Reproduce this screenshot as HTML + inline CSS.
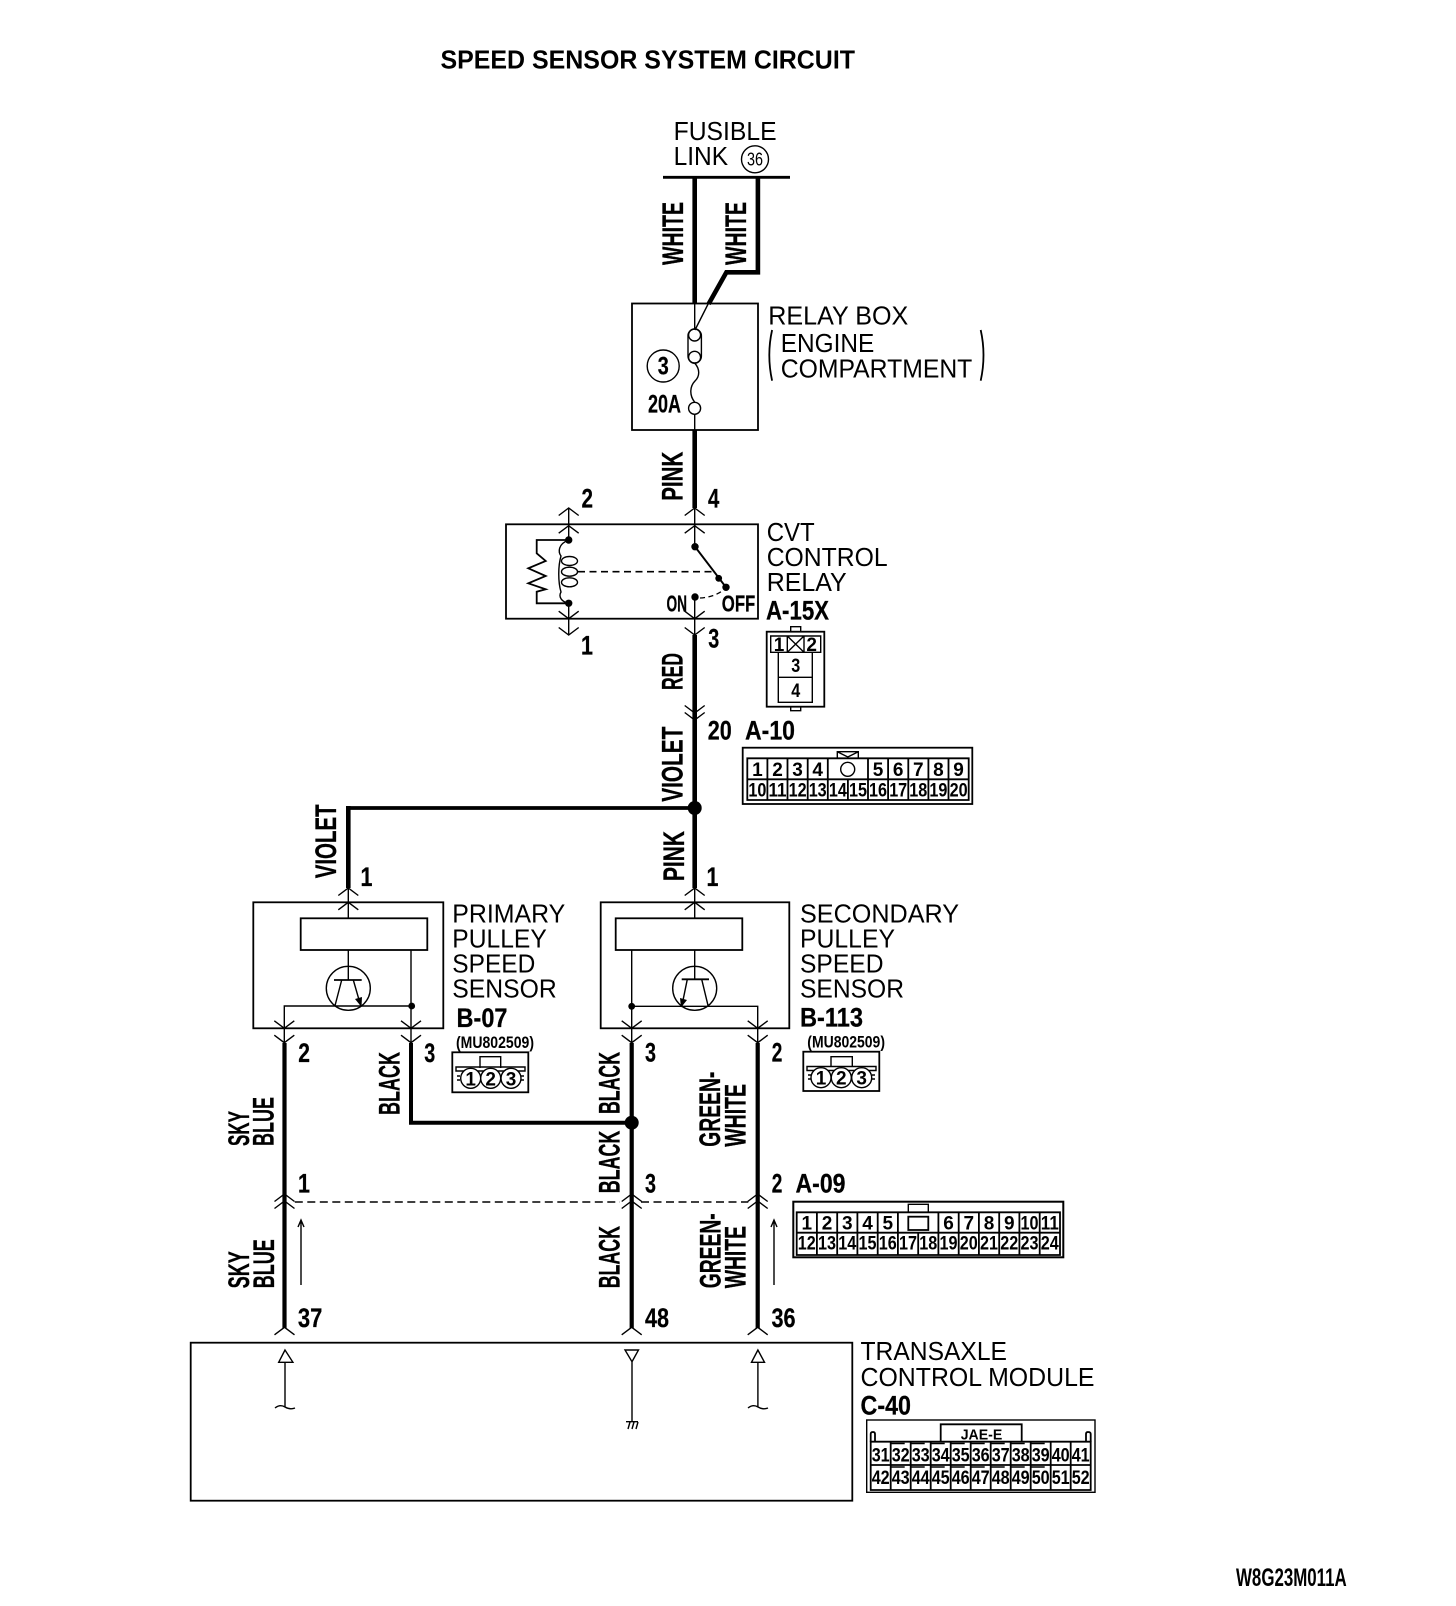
<!DOCTYPE html>
<html><head><meta charset="utf-8"><title>Speed Sensor System Circuit</title>
<style>
html,body{margin:0;padding:0;background:#fff}
svg{display:block}
text{font-family:"Liberation Sans",Arial,sans-serif;fill:#000;stroke:none}
.r{font-size:26px;transform:translate(-1px,-.7px)}
.b{font-size:27px;font-weight:bold;stroke:#000;stroke-width:.25;transform:translateY(-.7px)}
.w{font-size:29.5px;font-weight:bold;stroke:#000;stroke-width:.3}
.c{font-size:19px;font-weight:bold;text-anchor:middle}
.l{fill:none;stroke:#000;stroke-width:1.4}
.m{fill:none;stroke:#000;stroke-width:1.8}
.t{fill:none;stroke:#000;stroke-width:4.6}
</style></head><body>
<svg xmlns="http://www.w3.org/2000/svg" width="1456" height="1606" viewBox="0 0 1456 1606">
<defs>
<path id="u" class="l" d="M-10,7.5L0,0L10,7.5"/>
<path id="d" class="l" d="M-10,-7.5L0,0L10,-7.5"/>
</defs>
<rect width="1456" height="1606" fill="#fff"/>

<text x="440.5" y="68.5" font-size="26" font-weight="bold" textLength="414.5" lengthAdjust="spacingAndGlyphs">SPEED SENSOR SYSTEM CIRCUIT</text>

<!-- Fusible link -->
<text class="r" x="674.6" y="140.7" textLength="103" lengthAdjust="spacingAndGlyphs">FUSIBLE</text>
<text class="r" x="674.6" y="165.7" textLength="54.5" lengthAdjust="spacingAndGlyphs">LINK</text>
<circle class="l" cx="755" cy="159.3" r="13.5"/>
<text x="755" y="165.5" font-size="18" text-anchor="middle" textLength="16" lengthAdjust="spacingAndGlyphs">36</text>
<path d="M663,177.3H790" fill="none" stroke="#000" stroke-width="2.8"/>
<path class="t" d="M694.7,177V304"/>
<path class="t" d="M757.9,177V272.3H726.4L708.6,304"/>
<path class="l" d="M708.6,303L695,330M694.7,304V329M694.7,414V430"/>
<text class="w" transform="translate(683,265) rotate(-90)" textLength="63" lengthAdjust="spacingAndGlyphs">WHITE</text>
<text class="w" transform="translate(746,265) rotate(-90)" textLength="63" lengthAdjust="spacingAndGlyphs">WHITE</text>

<!-- Relay box -->
<rect class="m" x="632" y="303.5" width="126" height="126.5"/>
<rect class="l" x="688" y="329" width="13.4" height="34" rx="6.7"/>
<circle class="l" cx="694.6" cy="335" r="6"/>
<circle class="l" cx="694.6" cy="357.3" r="6"/>
<path class="l" d="M694.6,363C700,369 700,376 695,381C690,386 689,395 694.6,402"/>
<circle class="l" cx="694.6" cy="408.3" r="6"/>
<circle class="l" cx="663.2" cy="366" r="16"/>
<text class="b" x="663.2" y="375" text-anchor="middle" textLength="11" lengthAdjust="spacingAndGlyphs" style="font-size:25px">3</text>
<text class="b" x="648" y="413" style="font-size:25px" textLength="33" lengthAdjust="spacingAndGlyphs">20A</text>
<text class="r" x="769.3" y="325" textLength="140" lengthAdjust="spacingAndGlyphs">RELAY BOX</text>
<path class="m" d="M772.1,330Q766.5,355 772.1,380.7"/>
<text class="r" x="781.8" y="352.7" textLength="93.5" lengthAdjust="spacingAndGlyphs">ENGINE</text>
<text class="r" x="781.8" y="378.3" textLength="191.5" lengthAdjust="spacingAndGlyphs">COMPARTMENT</text>
<path class="m" d="M980.7,330Q986.3,355 980.7,380.7"/>

<!-- Main wire -->
<path class="t" d="M694.7,430V508"/>
<text class="w" transform="translate(682.7,500.7) rotate(-90)" textLength="49" lengthAdjust="spacingAndGlyphs">PINK</text>
<text class="b" x="708" y="508.3" textLength="11.3" lengthAdjust="spacingAndGlyphs">4</text>
<text class="b" x="581.5" y="508.3" textLength="11.5" lengthAdjust="spacingAndGlyphs">2</text>

<!-- CVT relay -->
<rect class="m" x="506" y="524.3" width="252" height="94.4"/>
<use href="#u" x="568.7" y="508"/><use href="#u" x="568.7" y="525.7"/>
<use href="#u" x="694.7" y="508"/><use href="#u" x="694.7" y="525.7"/>
<use href="#d" x="568.7" y="618.7"/><use href="#d" x="568.7" y="635"/>
<use href="#d" x="694.7" y="618.7"/><use href="#d" x="694.7" y="635"/>
<path class="l" d="M568.7,508V540M568.7,603V635M694.7,508V546M694.7,597V635"/>
<circle cx="568.7" cy="540" r="3.7"/><circle cx="568.7" cy="603.3" r="3.7"/>
<path class="m" d="M568.3,540H536.7V553.3L545.7,561L528.3,568.3L545.7,576L528.3,583.3L545.7,589.3L536.7,591.7V603.3H568.3"/>
<path class="l" d="M568.7,540C558,544 558,552 561,556C558,566 558,582 561,592C558,597 562,602 568.7,603.3"/>
<ellipse class="l" cx="569.5" cy="561" rx="8" ry="4.5"/>
<ellipse class="l" cx="569.5" cy="571.7" rx="8" ry="4.5"/>
<ellipse class="l" cx="569.5" cy="582.3" rx="8" ry="4.5"/>
<path d="M578,571.7H716" fill="none" stroke="#000" stroke-width="1.6" stroke-dasharray="7 4.5"/>
<path d="M695,546.7L726,587.3" fill="none" stroke="#000" stroke-width="2"/>
<circle cx="695" cy="546.7" r="3.7"/><circle cx="718.7" cy="578.3" r="3.4"/><circle cx="726" cy="587.3" r="3.7"/><circle cx="695" cy="597" r="3.7"/>
<path d="M700,598Q716,597 726,588" fill="none" stroke="#000" stroke-width="1.3" stroke-dasharray="5 3.5"/>
<text class="b" x="666.5" y="612.3" style="font-size:23px" textLength="20.5" lengthAdjust="spacingAndGlyphs">ON</text>
<text class="b" x="721.8" y="612.3" style="font-size:23px" textLength="33.5" lengthAdjust="spacingAndGlyphs">OFF</text>
<text class="r" x="767.7" y="541.7" textLength="48" lengthAdjust="spacingAndGlyphs">CVT</text>
<text class="r" x="767.7" y="566.7" textLength="121" lengthAdjust="spacingAndGlyphs">CONTROL</text>
<text class="r" x="767.7" y="591.7" textLength="80" lengthAdjust="spacingAndGlyphs">RELAY</text>
<text class="b" x="766" y="620" textLength="63" lengthAdjust="spacingAndGlyphs">A-15X</text>
<text class="b" x="581" y="655" textLength="12" lengthAdjust="spacingAndGlyphs">1</text>
<text class="b" x="708.3" y="648.3" textLength="11" lengthAdjust="spacingAndGlyphs">3</text>

<path class="t" d="M694.7,635V888"/>
<use href="#d" x="694.7" y="713"/><use href="#d" x="694.7" y="720"/>
<text class="w" transform="translate(682.7,690) rotate(-90)" textLength="37" lengthAdjust="spacingAndGlyphs">RED</text>
<text class="b" x="707.8" y="740" textLength="24" lengthAdjust="spacingAndGlyphs">20</text>
<text class="b" x="745" y="740" textLength="50" lengthAdjust="spacingAndGlyphs">A-10</text>
<text class="w" transform="translate(682.7,801.7) rotate(-90)" textLength="75" lengthAdjust="spacingAndGlyphs">VIOLET</text>

<!-- A-15X connector -->
<rect class="m" x="766.7" y="631.7" width="57.6" height="75"/>
<path class="l" d="M790.7,631.7V626.7H800.7V631.7M790.7,706.7V710.7H800.7V706.7"/>
<path class="l" d="M770.7,636H820.7V652.3H770.7ZM787.3,636V652.3M804,636V652.3M787.3,636L804,652.3M804,636L787.3,652.3M778.3,652.3V702.3H812.3V652.3M778.3,677.3H812.3"/>
<text class="c" x="779" y="651">1</text><text class="c" x="811.7" y="651">2</text>
<text class="c" x="795.7" y="672" textLength="9" lengthAdjust="spacingAndGlyphs">3</text><text class="c" x="795.7" y="697" textLength="9" lengthAdjust="spacingAndGlyphs">4</text>

<!-- A-10 connector -->
<rect class="m" x="742.7" y="747.7" width="229.6" height="56.3"/>
<path class="l" d="M837.3,758.3V751.7H858.3V758.3M837.3,751.7L847.8,757L858.3,751.7"/>
<path class="m" d="M747.3,758.3H968.7V800H747.3ZM747.3,779.3H968.7M767.4,758.3V800M787.5,758.3V800M807.7,758.3V800M827.8,758.3V800M847.9,779.3V800M868,758.3V800M888.1,758.3V800M908.3,758.3V800M928.4,758.3V800M948.5,758.3V800"/>
<circle class="l" cx="847.7" cy="769.3" r="7"/>
<g>
<text class="c" x="757.4" y="776">1</text><text class="c" x="777.5" y="776">2</text><text class="c" x="797.6" y="776">3</text><text class="c" x="817.7" y="776">4</text>
<text class="c" x="878" y="776">5</text><text class="c" x="898.2" y="776">6</text><text class="c" x="918.3" y="776">7</text><text class="c" x="938.4" y="776">8</text><text class="c" x="958.6" y="776">9</text>
<text class="c" x="757.4" y="796.5" textLength="18" lengthAdjust="spacingAndGlyphs">10</text><text class="c" x="777.5" y="796.5" textLength="18" lengthAdjust="spacingAndGlyphs">11</text><text class="c" x="797.6" y="796.5" textLength="18" lengthAdjust="spacingAndGlyphs">12</text><text class="c" x="817.7" y="796.5" textLength="18" lengthAdjust="spacingAndGlyphs">13</text><text class="c" x="837.9" y="796.5" textLength="18" lengthAdjust="spacingAndGlyphs">14</text><text class="c" x="858" y="796.5" textLength="18" lengthAdjust="spacingAndGlyphs">15</text><text class="c" x="878" y="796.5" textLength="18" lengthAdjust="spacingAndGlyphs">16</text><text class="c" x="898.2" y="796.5" textLength="18" lengthAdjust="spacingAndGlyphs">17</text><text class="c" x="918.3" y="796.5" textLength="18" lengthAdjust="spacingAndGlyphs">18</text><text class="c" x="938.4" y="796.5" textLength="18" lengthAdjust="spacingAndGlyphs">19</text><text class="c" x="958.6" y="796.5" textLength="18" lengthAdjust="spacingAndGlyphs">20</text>
</g>

<!-- Junction and branch -->
<path d="M348.3,808H694.7" fill="none" stroke="#000" stroke-width="3.8"/>
<path class="t" d="M348.3,806V888"/>
<circle cx="694.7" cy="808" r="7"/>
<text class="w" transform="translate(336,878.3) rotate(-90)" textLength="74" lengthAdjust="spacingAndGlyphs">VIOLET</text>
<text class="w" transform="translate(684,881) rotate(-90)" textLength="50" lengthAdjust="spacingAndGlyphs">PINK</text>
<text class="b" x="360.5" y="886.5" textLength="12" lengthAdjust="spacingAndGlyphs">1</text>
<text class="b" x="706.5" y="886.5" textLength="12" lengthAdjust="spacingAndGlyphs">1</text>

<!-- Primary sensor -->
<rect class="m" x="253.3" y="902.3" width="190" height="126"/>
<rect class="m" x="300.7" y="918.3" width="126.6" height="31.7"/>
<use href="#u" x="348.3" y="888"/><use href="#u" x="348.3" y="902.3"/>
<path class="l" d="M348.3,888V918M348.3,950V980"/>
<circle class="l" cx="348.3" cy="988.3" r="22"/>
<path class="m" d="M334,980H361.7"/>
<path class="l" d="M341.7,980L335,1005.7M353.3,980L360.7,1005.7"/>
<path d="M361.5,1007L355,999L362,997Z"/>
<path class="l" d="M411,950V1043M284.3,1043V1006H411.7"/>
<circle cx="411.7" cy="1006" r="3.4"/>
<use href="#d" x="284.3" y="1028.3"/><use href="#d" x="284.3" y="1042.7"/>
<use href="#d" x="411" y="1028.3"/><use href="#d" x="411" y="1042.7"/>
<text class="r" x="453.3" y="923.3" textLength="113" lengthAdjust="spacingAndGlyphs">PRIMARY</text>
<text class="r" x="453.3" y="948.3" textLength="94.5" lengthAdjust="spacingAndGlyphs">PULLEY</text>
<text class="r" x="453.3" y="973.3" textLength="83" lengthAdjust="spacingAndGlyphs">SPEED</text>
<text class="r" x="453.3" y="998.3" textLength="104.5" lengthAdjust="spacingAndGlyphs">SENSOR</text>
<text class="b" x="456.5" y="1027.5" textLength="51" lengthAdjust="spacingAndGlyphs">B-07</text>
<text x="456" y="1048" font-size="17" font-weight="bold" textLength="78" lengthAdjust="spacingAndGlyphs">(MU802509)</text>
<rect class="m" x="452.3" y="1052.3" width="76" height="40"/>
<path class="l" d="M480,1068V1056.7H500.7V1068M456,1067H525V1071H456ZM457,1076H460M521,1076H524M457,1080H460M521,1080H524"/>
<circle cx="470.7" cy="1078.3" r="10" fill="#fff" stroke="#000" stroke-width="1.4"/>
<circle cx="490.7" cy="1078.3" r="10" fill="#fff" stroke="#000" stroke-width="1.4"/>
<circle cx="511" cy="1078.3" r="10" fill="#fff" stroke="#000" stroke-width="1.4"/>
<text class="c" x="470.7" y="1085.3">1</text><text class="c" x="490.7" y="1085.3">2</text><text class="c" x="511" y="1085.3">3</text>
<text class="b" x="298.3" y="1062.7" textLength="11.7" lengthAdjust="spacingAndGlyphs">2</text>
<text class="b" x="424.3" y="1062.7" textLength="11" lengthAdjust="spacingAndGlyphs">3</text>

<!-- Secondary sensor -->
<rect class="m" x="600.7" y="902.3" width="188.6" height="126"/>
<rect class="m" x="615.7" y="918.3" width="126.6" height="31.7"/>
<use href="#u" x="694.7" y="888"/><use href="#u" x="694.7" y="902.3"/>
<path class="l" d="M694.7,888V918M694.7,950V980"/>
<circle class="l" cx="694.7" cy="988.3" r="22"/>
<path class="m" d="M681.7,979.3H709"/>
<path class="l" d="M687.3,979.3L681.7,1006.7M701.7,979.3L708.3,1006.7"/>
<path d="M681,1007.5L680,998L687,1000Z"/>
<path class="l" d="M631.7,950V1043M757.7,1043V1006.3H631.7"/>
<circle cx="631.7" cy="1006.3" r="3.4"/>
<use href="#d" x="631.7" y="1028.3"/><use href="#d" x="631.7" y="1042.7"/>
<use href="#d" x="757.7" y="1028.3"/><use href="#d" x="757.7" y="1042.7"/>
<text class="r" x="801" y="923.3" textLength="159" lengthAdjust="spacingAndGlyphs">SECONDARY</text>
<text class="r" x="801" y="948.3" textLength="95" lengthAdjust="spacingAndGlyphs">PULLEY</text>
<text class="r" x="801" y="973.3" textLength="83.5" lengthAdjust="spacingAndGlyphs">SPEED</text>
<text class="r" x="801" y="998.3" textLength="104" lengthAdjust="spacingAndGlyphs">SENSOR</text>
<text class="b" x="800" y="1027.3" textLength="63" lengthAdjust="spacingAndGlyphs">B-113</text>
<text x="807.3" y="1047.5" font-size="17" font-weight="bold" textLength="77.7" lengthAdjust="spacingAndGlyphs">(MU802509)</text>
<rect class="m" x="803.3" y="1051.7" width="76" height="39.3"/>
<path class="l" d="M831,1067V1056.7H852.3V1067M807,1066.5H876V1070.5H807ZM808,1075H811M872,1075H875M808,1079H811M872,1079H875"/>
<circle cx="821" cy="1077.7" r="10" fill="#fff" stroke="#000" stroke-width="1.4"/>
<circle cx="841.3" cy="1077.7" r="10" fill="#fff" stroke="#000" stroke-width="1.4"/>
<circle cx="861.7" cy="1077.7" r="10" fill="#fff" stroke="#000" stroke-width="1.4"/>
<text class="c" x="821" y="1084.7">1</text><text class="c" x="841.3" y="1084.7">2</text><text class="c" x="861.7" y="1084.7">3</text>
<text class="b" x="645" y="1062.3" textLength="11" lengthAdjust="spacingAndGlyphs">3</text>
<text class="b" x="771.7" y="1062.3" textLength="10.6" lengthAdjust="spacingAndGlyphs">2</text>

<!-- Lower wires -->
<path class="t" d="M284.5,1043V1328M631.7,1043V1328M757.7,1043V1328" style="stroke-width:4.2"/>
<path class="t" d="M411,1043V1122.7H631" style="stroke-width:4"/>
<circle cx="631.7" cy="1122.7" r="7"/>
<text class="w" transform="translate(399.3,1115) rotate(-90)" textLength="63" lengthAdjust="spacingAndGlyphs">BLACK</text>
<text class="w" transform="translate(619.3,1114) rotate(-90)" textLength="62" lengthAdjust="spacingAndGlyphs">BLACK</text>
<text class="w" transform="translate(619.3,1193.3) rotate(-90)" textLength="62.6" lengthAdjust="spacingAndGlyphs">BLACK</text>
<text class="w" transform="translate(619.3,1288.3) rotate(-90)" textLength="62.3" lengthAdjust="spacingAndGlyphs">BLACK</text>
<text class="w" transform="translate(249,1146) rotate(-90)" textLength="35" lengthAdjust="spacingAndGlyphs">SKY</text>
<text class="w" transform="translate(273.5,1146) rotate(-90)" textLength="49" lengthAdjust="spacingAndGlyphs">BLUE</text>
<text class="w" transform="translate(249,1288.3) rotate(-90)" textLength="37" lengthAdjust="spacingAndGlyphs">SKY</text>
<text class="w" transform="translate(273.8,1288.3) rotate(-90)" textLength="49" lengthAdjust="spacingAndGlyphs">BLUE</text>
<text class="w" transform="translate(720,1146.7) rotate(-90)" textLength="75" lengthAdjust="spacingAndGlyphs">GREEN-</text>
<text class="w" transform="translate(745.7,1146.7) rotate(-90)" textLength="62.7" lengthAdjust="spacingAndGlyphs">WHITE</text>
<text class="w" transform="translate(720.4,1288.3) rotate(-90)" textLength="75" lengthAdjust="spacingAndGlyphs">GREEN-</text>
<text class="w" transform="translate(745.6,1288.3) rotate(-90)" textLength="62.3" lengthAdjust="spacingAndGlyphs">WHITE</text>

<!-- A-09 row -->
<use href="#u" x="284.5" y="1194"/><use href="#u" x="284.5" y="1201"/>
<use href="#u" x="631.7" y="1194"/><use href="#u" x="631.7" y="1201"/>
<use href="#u" x="757.7" y="1194"/><use href="#u" x="757.7" y="1201"/>
<path d="M294.8,1202H620M641,1202H748.3" fill="none" stroke="#000" stroke-width="1.4" stroke-dasharray="8 4.5"/>
<path class="l" d="M301,1285V1220M298,1227L301,1220L304,1227M774,1285V1220M771,1227L774,1220L777,1227"/>
<text class="b" x="298" y="1193.3" textLength="12" lengthAdjust="spacingAndGlyphs">1</text>
<text class="b" x="645" y="1193.3" textLength="11" lengthAdjust="spacingAndGlyphs">3</text>
<text class="b" x="771.7" y="1193.3" textLength="10.6" lengthAdjust="spacingAndGlyphs">2</text>
<text class="b" x="795.5" y="1193.3" textLength="50" lengthAdjust="spacingAndGlyphs">A-09</text>

<rect class="m" x="793.3" y="1201.7" width="270" height="55.6" style="stroke-width:2"/>
<path class="l" d="M908.3,1212.3V1204.3H928.3V1212.3"/>
<rect class="m" x="908.3" y="1216.7" width="20" height="13.3"/>
<path class="m" d="M796.7,1212.3H1060V1255H796.7ZM796.7,1232.7H1060M816.9,1212.3V1255M837.2,1212.3V1255M857.4,1212.3V1255M877.7,1212.3V1255M897.9,1212.3V1255M918.2,1232.7V1255M938.4,1212.3V1255M958.7,1212.3V1255M978.9,1212.3V1255M999.2,1212.3V1255M1019.4,1212.3V1255M1039.7,1212.3V1255"/>
<text class="c" x="806.8" y="1229.5">1</text><text class="c" x="827" y="1229.5">2</text><text class="c" x="847.3" y="1229.5">3</text><text class="c" x="867.5" y="1229.5">4</text><text class="c" x="887.8" y="1229.5">5</text>
<text class="c" x="948.5" y="1229.5">6</text><text class="c" x="968.8" y="1229.5">7</text><text class="c" x="989" y="1229.5">8</text><text class="c" x="1009.3" y="1229.5">9</text>
<text class="c" x="1029.5" y="1229.5" textLength="18" lengthAdjust="spacingAndGlyphs">10</text><text class="c" x="1049.8" y="1229.5" textLength="18" lengthAdjust="spacingAndGlyphs">11</text>
<text class="c" x="806.8" y="1249.3" textLength="18" lengthAdjust="spacingAndGlyphs">12</text><text class="c" x="827" y="1249.3" textLength="18" lengthAdjust="spacingAndGlyphs">13</text><text class="c" x="847.3" y="1249.3" textLength="18" lengthAdjust="spacingAndGlyphs">14</text><text class="c" x="867.5" y="1249.3" textLength="18" lengthAdjust="spacingAndGlyphs">15</text><text class="c" x="887.8" y="1249.3" textLength="18" lengthAdjust="spacingAndGlyphs">16</text><text class="c" x="908" y="1249.3" textLength="18" lengthAdjust="spacingAndGlyphs">17</text><text class="c" x="928.3" y="1249.3" textLength="18" lengthAdjust="spacingAndGlyphs">18</text><text class="c" x="948.5" y="1249.3" textLength="18" lengthAdjust="spacingAndGlyphs">19</text><text class="c" x="968.8" y="1249.3" textLength="18" lengthAdjust="spacingAndGlyphs">20</text><text class="c" x="989" y="1249.3" textLength="18" lengthAdjust="spacingAndGlyphs">21</text><text class="c" x="1009.3" y="1249.3" textLength="18" lengthAdjust="spacingAndGlyphs">22</text><text class="c" x="1029.5" y="1249.3" textLength="18" lengthAdjust="spacingAndGlyphs">23</text><text class="c" x="1049.8" y="1249.3" textLength="18" lengthAdjust="spacingAndGlyphs">24</text>

<!-- Module -->
<use href="#u" x="284.5" y="1327.3"/><use href="#u" x="631.7" y="1327.3"/><use href="#u" x="757.7" y="1327.3"/>
<text class="b" x="297.9" y="1327.5" textLength="24.5" lengthAdjust="spacingAndGlyphs">37</text>
<text class="b" x="645" y="1327.5" textLength="24" lengthAdjust="spacingAndGlyphs">48</text>
<text class="b" x="771.5" y="1327.5" textLength="24" lengthAdjust="spacingAndGlyphs">36</text>
<rect class="m" x="190.7" y="1342.7" width="661.6" height="158"/>
<path class="l" d="M285,1350L278.7,1362.3H292.9ZM285,1362.3V1407M275,1408Q280,1404 285,1407T295,1408"/>
<path class="l" d="M757.9,1350L751.5,1362.3H764.5ZM757.9,1362.3V1407M748,1408Q753,1404 758,1407T768,1408"/>
<path class="l" d="M625,1350H638.5L632,1361.7ZM632,1361.7V1421.7M626,1421.7H638M628,1429L630,1422M632,1429L634,1422M636,1429L638,1422"/>
<text class="r" x="861.5" y="1360.7" textLength="146.5" lengthAdjust="spacingAndGlyphs">TRANSAXLE</text>
<text class="r" x="861.5" y="1386.7" textLength="234" lengthAdjust="spacingAndGlyphs">CONTROL MODULE</text>
<text class="b" x="860.5" y="1415" textLength="50.5" lengthAdjust="spacingAndGlyphs">C-40</text>

<!-- C-40 connector -->
<rect class="l" x="866.7" y="1420" width="228.3" height="72.3"/>
<path class="m" d="M940.7,1441.7V1424.3H1021.7V1441.7M870.7,1441.7V1434Q870.7,1432 873,1432Q875,1432 875,1434V1441.7M1086,1441.7V1434Q1086,1432 1088,1432Q1090.7,1432 1090.7,1434V1441.7"/>
<text x="981.5" y="1439.3" font-size="15" font-weight="bold" text-anchor="middle" textLength="41.6" lengthAdjust="spacingAndGlyphs">JAE-E</text>
<path class="m" d="M870.7,1441.7H1090.7V1490H870.7ZM870.7,1465H1090.7M890.7,1441.7V1490M910.7,1441.7V1490M930.7,1441.7V1490M950.7,1441.7V1490M970.7,1441.7V1490M990.7,1441.7V1490M1010.7,1441.7V1490M1030.7,1441.7V1490M1050.7,1441.7V1490M1070.7,1441.7V1490"/>
<path d="M890.7,1443.5H1050.7M890.7,1467H1050.7" fill="none" stroke="#000" stroke-width="1.5" stroke-dasharray="14 6"/>
<text class="c" x="880.7" y="1461.5" textLength="18" lengthAdjust="spacingAndGlyphs">31</text><text class="c" x="900.7" y="1461.5" textLength="18" lengthAdjust="spacingAndGlyphs">32</text><text class="c" x="920.7" y="1461.5" textLength="18" lengthAdjust="spacingAndGlyphs">33</text><text class="c" x="940.7" y="1461.5" textLength="18" lengthAdjust="spacingAndGlyphs">34</text><text class="c" x="960.7" y="1461.5" textLength="18" lengthAdjust="spacingAndGlyphs">35</text><text class="c" x="980.7" y="1461.5" textLength="18" lengthAdjust="spacingAndGlyphs">36</text><text class="c" x="1000.7" y="1461.5" textLength="18" lengthAdjust="spacingAndGlyphs">37</text><text class="c" x="1020.7" y="1461.5" textLength="18" lengthAdjust="spacingAndGlyphs">38</text><text class="c" x="1040.7" y="1461.5" textLength="18" lengthAdjust="spacingAndGlyphs">39</text><text class="c" x="1060.7" y="1461.5" textLength="18" lengthAdjust="spacingAndGlyphs">40</text><text class="c" x="1080.7" y="1461.5" textLength="18" lengthAdjust="spacingAndGlyphs">41</text>
<text class="c" x="880.7" y="1484" textLength="18" lengthAdjust="spacingAndGlyphs">42</text><text class="c" x="900.7" y="1484" textLength="18" lengthAdjust="spacingAndGlyphs">43</text><text class="c" x="920.7" y="1484" textLength="18" lengthAdjust="spacingAndGlyphs">44</text><text class="c" x="940.7" y="1484" textLength="18" lengthAdjust="spacingAndGlyphs">45</text><text class="c" x="960.7" y="1484" textLength="18" lengthAdjust="spacingAndGlyphs">46</text><text class="c" x="980.7" y="1484" textLength="18" lengthAdjust="spacingAndGlyphs">47</text><text class="c" x="1000.7" y="1484" textLength="18" lengthAdjust="spacingAndGlyphs">48</text><text class="c" x="1020.7" y="1484" textLength="18" lengthAdjust="spacingAndGlyphs">49</text><text class="c" x="1040.7" y="1484" textLength="18" lengthAdjust="spacingAndGlyphs">50</text><text class="c" x="1060.7" y="1484" textLength="18" lengthAdjust="spacingAndGlyphs">51</text><text class="c" x="1080.7" y="1484" textLength="18" lengthAdjust="spacingAndGlyphs">52</text>

<text x="1236" y="1586" font-size="25" font-weight="bold" textLength="110.7" lengthAdjust="spacingAndGlyphs">W8G23M011A</text>
</svg>
</body></html>
